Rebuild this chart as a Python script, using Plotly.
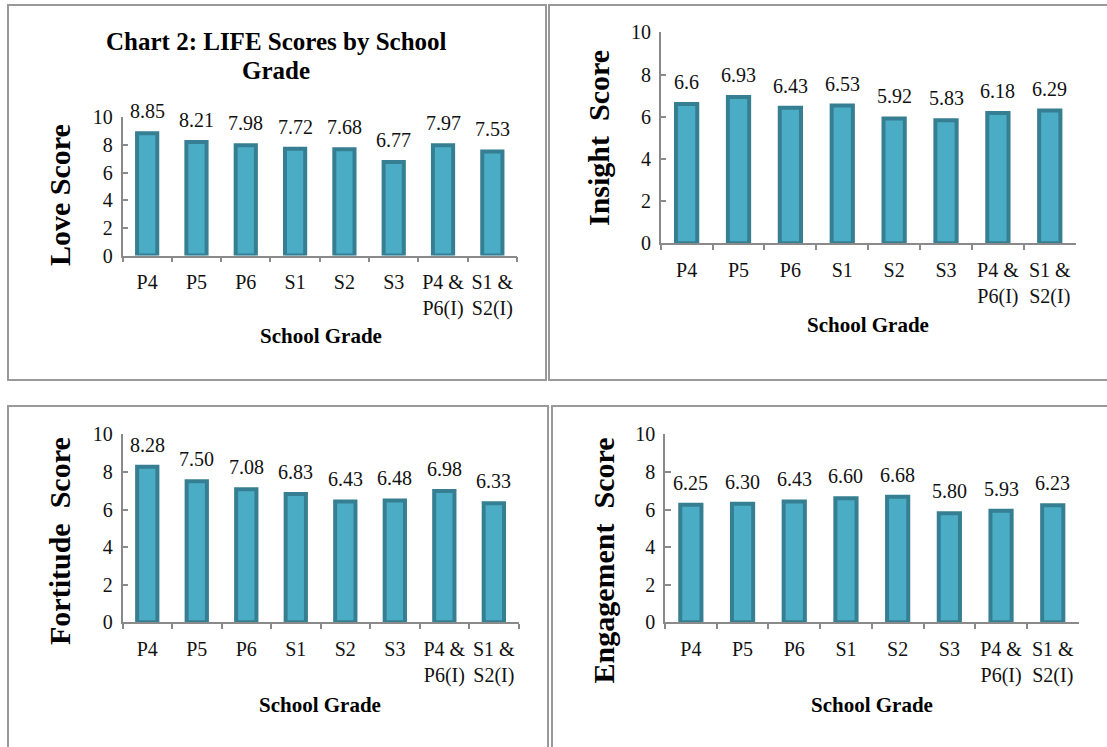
import plotly.graph_objects as go

W, H = 1107, 747

# ---- data ----
grades = ["P4", "P5", "P6", "S1", "S2", "S3", "P4 &<br>P6(I)", "S1 &<br>S2(I)"]
love_scores = [8.85, 8.21, 7.98, 7.72, 7.68, 6.77, 7.97, 7.53]
insight_scores = [6.6, 6.93, 6.43, 6.53, 5.92, 5.83, 6.18, 6.29]
fortitude_scores = [8.28, 7.50, 7.08, 6.83, 6.43, 6.48, 6.98, 6.33]
engagement_scores = [6.25, 6.30, 6.43, 6.60, 6.68, 5.80, 5.93, 6.23]
y_ticks = [0, 2, 4, 6, 8, 10]

FONT = "Liberation Serif"
FILL = "#4bacc6"
EDGE = "#367f92"
AXIS = "#8a8a8a"
FRAME = "#999999"


def px_x(x):
    return x / W


def px_y(y):
    return 1 - y / H


# panel layout in pixels: plot area (x0, x1, ytop, ybottom), frame, titles
panels = [
    dict(values=love_scores, fmt="{:g}", ytitle="Love Score",
         plot=(122.5, 517, 117.3, 255.5), frame=(8, 5, 546, 380),
         ytitle_pos=(59, 195), xtitle_pos=(321, 336)),
    dict(values=insight_scores, fmt="{:g}", ytitle="Insight  Score",
         plot=(660.7, 1075.7, 32.3, 243.3), frame=(549, 5, 1115, 380),
         ytitle_pos=(599, 138), xtitle_pos=(868, 325)),
    dict(values=fortitude_scores, fmt="{:.2f}", ytitle="Fortitude  Score",
         plot=(122.5, 518.6, 434.3, 622.3), frame=(8, 406, 548, 800),
         ytitle_pos=(59, 541), xtitle_pos=(320, 705)),
    dict(values=engagement_scores, fmt="{:.2f}", ytitle="Engagement  Score",
         plot=(665, 1078.6, 434.3, 622.3), frame=(552, 406, 1115, 800),
         ytitle_pos=(602.5, 560), xtitle_pos=(872, 705)),
]

fig = go.Figure()
annotations = []
shapes = []
layout_axes = {}

for i, p in enumerate(panels, start=1):
    sfx = "" if i == 1 else str(i)
    xref, yref = "x" + sfx, "y" + sfx
    x0, x1, yt, yb = p["plot"]

    fig.add_trace(go.Bar(
        x=grades, y=p["values"], xaxis=xref, yaxis=yref,
        width=0.41,
        marker=dict(color=FILL, line=dict(color=EDGE, width=4)),
        showlegend=False, hoverinfo="x+y",
    ))

    # value labels above bars
    for g, v in zip(grades, p["values"]):
        annotations.append(dict(
            x=g, y=v, xref=xref, yref=yref, text=p["fmt"].format(v),
            showarrow=False, yanchor="middle", yshift=22,
            font=dict(family=FONT, size=20, color="#111"),
        ))

    layout_axes["xaxis" + sfx] = dict(
        domain=[px_x(x0), px_x(x1)], anchor=yref,
        type="category", range=[-0.5, 7.5], tickangle=0, automargin=False,
        showline=True, linecolor=AXIS, linewidth=1.5,
        ticks="outside", tickson="boundaries", ticklen=5, tickcolor=AXIS,
        tickwidth=1.5, showgrid=False, zeroline=False, ticklabelstandoff=8,
        tickfont=dict(family=FONT, size=20, color="#111"),
        fixedrange=True,
    )
    layout_axes["yaxis" + sfx] = dict(
        domain=[px_y(yb), px_y(yt)], anchor=xref, automargin=False,
        range=[0, 10], tickvals=y_ticks,
        showline=True, linecolor=AXIS, linewidth=1.5,
        ticks="inside", ticklen=6, tickcolor=AXIS, tickwidth=1.5,
        showgrid=False, zeroline=False, ticklabelstandoff=4,
        tickfont=dict(family=FONT, size=20, color="#111"),
        fixedrange=True,
    )

    # axis titles
    tx, ty = p["ytitle_pos"]
    annotations.append(dict(
        x=px_x(tx), y=px_y(ty), xref="paper", yref="paper",
        text=p["ytitle"], textangle=-90, showarrow=False,
        xanchor="center", yanchor="middle",
        font=dict(family=FONT, size=30, color="#000", weight="bold"),
    ))
    gx, gy = p["xtitle_pos"]
    annotations.append(dict(
        x=px_x(gx), y=px_y(gy), xref="paper", yref="paper",
        text="School Grade", showarrow=False,
        xanchor="center", yanchor="middle",
        font=dict(family=FONT, size=21, color="#000", weight="bold"),
    ))

    # panel frame
    fx0, fy0, fx1, fy1 = p["frame"]
    shapes.append(dict(
        type="rect", xref="paper", yref="paper",
        x0=px_x(fx0), x1=px_x(fx1), y0=px_y(fy1), y1=px_y(fy0),
        line=dict(color=FRAME, width=2), fillcolor="rgba(0,0,0,0)",
        layer="below",
    ))

# chart title, two lines set individually for tighter leading
for line, cy in (("Chart 2: LIFE Scores by School", 41), ("Grade", 70)):
    annotations.append(dict(
        x=px_x(276), y=px_y(cy), xref="paper", yref="paper",
        text=line, showarrow=False, xanchor="center", yanchor="middle",
        font=dict(family=FONT, size=25, color="#000", weight="bold"),
    ))

fig.update_layout(
    width=W, height=H,
    margin=dict(l=0, r=0, t=0, b=0),
    paper_bgcolor="white", plot_bgcolor="white",
    annotations=annotations, shapes=shapes,
    **layout_axes,
)

fig.write_html("out.html", config={"displayModeBar": False})
